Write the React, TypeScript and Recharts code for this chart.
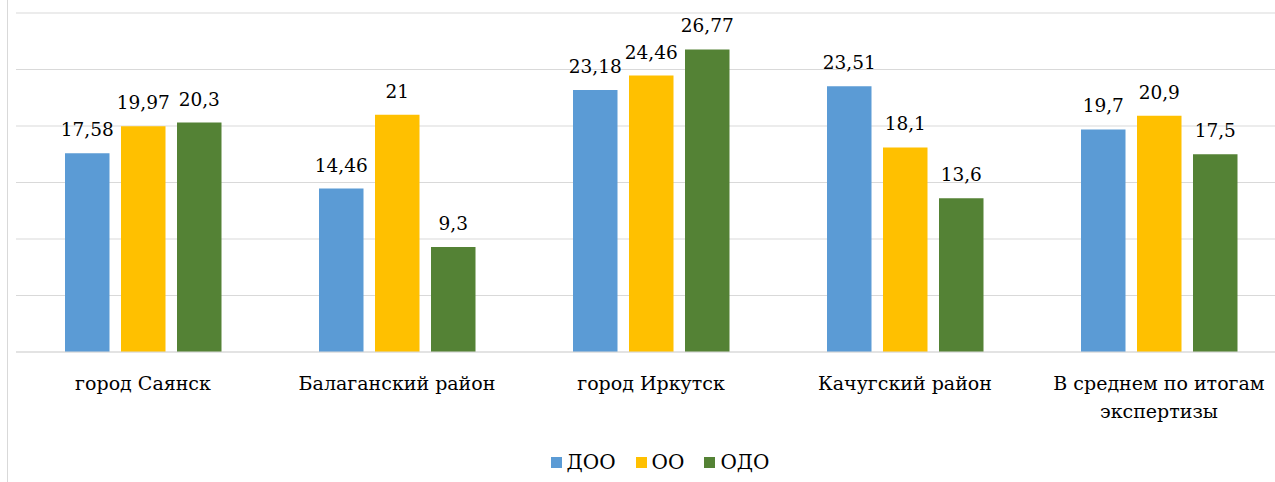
import React from "react";
import {
  BarChart,
  Bar,
  XAxis,
  YAxis,
  CartesianGrid,
  Legend,
  LabelList,
} from "recharts";

const categories = [
  "город Саянск",
  "Балаганский район",
  "город Иркутск",
  "Качугский район",
  "В среднем по итогам экспертизы",
];
const dooValues = [17.58, 14.46, 23.18, 23.51, 19.7];
const ooValues = [19.97, 21, 24.46, 18.1, 20.9];
const odoValues = [20.3, 9.3, 26.77, 13.6, 17.5];
const yTicks = [0, 5, 10, 15, 20, 25, 30];

const series = [
  { key: "doo", name: "ДОО", color: "#5b9bd5" },
  { key: "oo", name: "ОО", color: "#ffc000" },
  { key: "odo", name: "ОДО", color: "#548235" },
];

const data = categories.map((name, i) => ({
  name,
  doo: dooValues[i],
  oo: ooValues[i],
  odo: odoValues[i],
}));

// only serif face that is actually available in the sandbox
const FONT = "'DejaVu Serif'";

const fmt = (v: any) => String(v).replace(".", ",");

const wrap = (s: string, max: number) => {
  const words = s.split(" ");
  const lines: string[] = [];
  let cur = "";
  words.forEach((w) => {
    const next = cur ? cur + " " + w : w;
    if (next.length > max && cur) {
      lines.push(cur);
      cur = w;
    } else {
      cur = next;
    }
  });
  if (cur) lines.push(cur);
  return lines;
};

const CategoryTick = (props: any) => {
  const { x, y, payload } = props;
  const lines = wrap(payload.value, 20);
  return (
    <text x={x} y={y} textAnchor="middle" fontFamily={FONT} fontSize={19} fill="#000">
      {lines.map((l, i) => (
        <tspan key={i} x={x} dy={i === 0 ? 36 : 28}>
          {l}
        </tspan>
      ))}
    </text>
  );
};

const LegendContent = () => (
  <div
    style={{
      display: "flex",
      justifyContent: "center",
      alignItems: "center",
      fontFamily: FONT,
      fontSize: 20,
      color: "#000",
      height: 24,
      paddingLeft: 38,
    }}
  >
    {series.map((s) => (
      <div key={s.key} style={{ display: "flex", alignItems: "center", marginRight: 20 }}>
        <span style={{ width: 11, height: 11, background: s.color, marginRight: 5, display: "inline-block" }} />
        <span>{s.name}</span>
      </div>
    ))}
  </div>
);

export default function App() {
  return (
    <div style={{ position: "relative", width: 1275, height: 482, overflow: "hidden", background: "#fff" }}>
      <style>{"body{margin:0}"}</style>
      <div
        style={{
          position: "absolute",
          left: 7,
          top: 0,
          width: 1,
          height: 482,
          background: "#d9d9d9",
        }}
      />
      <BarChart
        width={1286}
        height={482}
        data={data}
        margin={{ top: 13, right: 0, left: 16, bottom: 8 }}
        barSize={44.5}
        barGap={11.5}
      >
        <CartesianGrid vertical={false} stroke="#d9d9d9" strokeWidth={1.2} />
        <XAxis
          dataKey="name"
          axisLine={{ stroke: "#d9d9d9", strokeWidth: 1.2 }}
          tickLine={false}
          tickSize={0}
          interval={0}
          height={98}
          tick={<CategoryTick />}
        />
        <YAxis hide domain={[0, 30]} ticks={yTicks} />
        <Legend verticalAlign="bottom" content={<LegendContent />} />
        {series.map((s) => (
          <Bar key={s.key} dataKey={s.key} name={s.name} fill={s.color} isAnimationActive={false}>
            <LabelList
              dataKey={s.key}
              position="top"
              offset={17}
              formatter={fmt}
              fontFamily={FONT}
              fontSize={18.5}
              fill="#000"
            />
          </Bar>
        ))}
      </BarChart>
    </div>
  );
}
